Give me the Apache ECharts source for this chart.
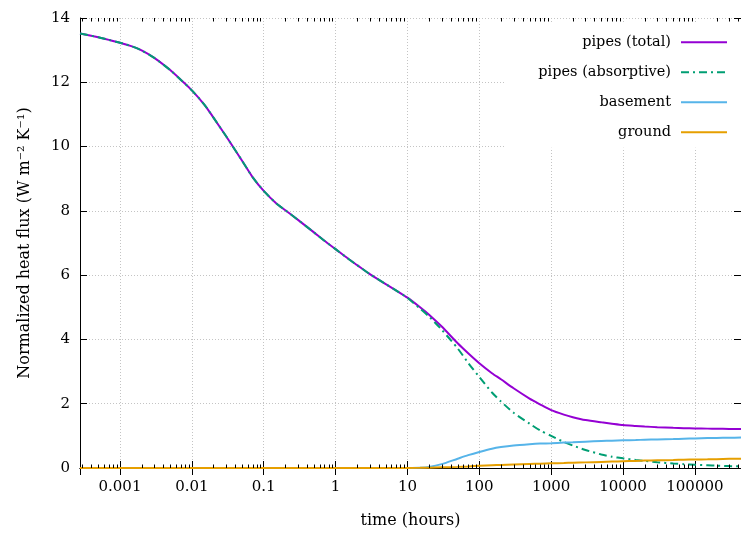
<!DOCTYPE html>
<html>
<head>
<meta charset="utf-8">
<script src="https://cdn.jsdelivr.net/npm/echarts@6/dist/echarts.min.js"></script>
<style>html,body{margin:0;padding:0;background:#fff}#c{width:741px;height:534px}</style>
</head>
<body>
<div id="c"></div>
<script>
// time in hours
var times = [0.000278, 0.0005, 0.0007,
  0.001, 0.0015, 0.002, 0.003, 0.005, 0.007,
  0.01, 0.015, 0.02, 0.03, 0.05, 0.07,
  0.1, 0.15, 0.2, 0.3, 0.5, 0.7,
  1, 1.5, 2, 3, 5, 7,
  10, 15, 20, 30, 50, 70,
  100, 150, 200, 300, 500, 700,
  1000, 1500, 2000, 3000, 5000, 7000,
  10000, 15000, 20000, 30000, 50000, 70000,
  100000, 150000, 200000, 300000, 438000];
var pipesTotal = [13.52, 13.40, 13.32,
  13.23, 13.11, 12.99, 12.76, 12.38, 12.08,
  11.75, 11.30, 10.90, 10.32, 9.56, 9.05,
  8.62, 8.23, 8.02, 7.72, 7.33, 7.07,
  6.81, 6.51, 6.31, 6.03, 5.72, 5.52,
  5.30, 5.00, 4.77, 4.40, 3.88, 3.57,
  3.26, 2.95, 2.76, 2.48, 2.16, 1.98,
  1.80, 1.66, 1.58, 1.49, 1.42, 1.38,
  1.34, 1.31, 1.29, 1.27, 1.25, 1.24,
  1.23, 1.225, 1.22, 1.215, 1.21];
var pipesAbsorptive = [13.52, 13.40, 13.32,
  13.23, 13.11, 12.99, 12.76, 12.38, 12.08,
  11.75, 11.30, 10.90, 10.32, 9.56, 9.05,
  8.62, 8.23, 8.02, 7.72, 7.33, 7.07,
  6.81, 6.51, 6.31, 6.03, 5.72, 5.52,
  5.29, 4.96, 4.71, 4.30, 3.72, 3.27,
  2.83, 2.35, 2.07, 1.72, 1.38, 1.17,
  1.00, 0.81, 0.70, 0.56, 0.42, 0.35,
  0.30, 0.25, 0.22, 0.18, 0.14, 0.12,
  0.10, 0.085, 0.075, 0.06, 0.05];
var basement = [0, 0, 0,
  0, 0, 0, 0, 0, 0,
  0, 0, 0, 0, 0, 0,
  0, 0, 0, 0, 0, 0,
  0, 0, 0, 0, 0, 0,
  0, 0.005, 0.03, 0.12, 0.29, 0.40,
  0.50, 0.60, 0.65, 0.70, 0.74, 0.76,
  0.77, 0.79, 0.80, 0.82, 0.84, 0.85,
  0.86, 0.87, 0.88, 0.89, 0.90, 0.91,
  0.92, 0.93, 0.935, 0.94, 0.95];
var ground = [0, 0, 0,
  0, 0, 0, 0, 0, 0,
  0, 0, 0, 0, 0, 0,
  0, 0, 0, 0, 0, 0,
  0, 0, 0, 0, 0, 0,
  0, 0.005, 0.01, 0.02, 0.035, 0.05,
  0.07, 0.085, 0.095, 0.11, 0.125, 0.135,
  0.145, 0.155, 0.165, 0.175, 0.19, 0.20,
  0.21, 0.22, 0.23, 0.24, 0.25, 0.26,
  0.265, 0.27, 0.275, 0.285, 0.29];
var seriesNames = ['pipes (total)', 'pipes (absorptive)', 'basement', 'ground'];
var xMin = 1 / 3600, xMax = 438000;
var yMin = 0, yMax = 14, yStep = 2;

function pairs(vals) { return times.map(function (t, i) { return [t, vals[i]]; }); }

// minor log ticks (2..9 x 10^n) inside the range
var minorTicks = [];
for (var n = -4; n <= 5; n++) {
  for (var k = 2; k <= 9; k++) {
    var v = k * Math.pow(10, n);
    if (v > xMin && v < xMax) minorTicks.push([v, 0]);
  }
}

var FONT = 'DejaVu Serif';
var grid = {type: [1, 2], color: '#c4c4c4', width: 1};

var chart = echarts.init(document.getElementById('c'), null, {renderer: 'canvas'});
chart.setOption({
  animation: false,
  backgroundColor: '#fff',
  grid: {left: 80, right: -5, top: 18, bottom: 62, containLabel: false},
  legend: {
    data: seriesNames,
    orient: 'vertical',
    right: -2,
    top: 22,
    align: 'right',
    itemWidth: 46,
    itemHeight: 14,
    itemGap: 15,
    padding: [12.7, 15, 8, 34],
    backgroundColor: '#fff',
    itemStyle: {opacity: 0},
    textStyle: {fontFamily: FONT, fontSize: 14.5, color: '#000', padding: [0, 5, 0, 0]}
  },
  xAxis: [{
    type: 'log', logBase: 10, min: xMin, max: xMax,
    name: 'time (hours)', nameLocation: 'middle', nameGap: 45,
    nameTextStyle: {fontFamily: FONT, fontSize: 16, color: '#000'},
    axisLine: {show: true, lineStyle: {color: '#000', width: 1}},
    axisTick: {show: true, inside: true, length: 7, lineStyle: {color: '#000'}},
    axisLabel: {fontFamily: FONT, fontSize: 15, color: '#000', margin: 12, showMinLabel: false, showMaxLabel: false,
      formatter: function (v) { return v >= 1 ? String(Math.round(v)) : String(Number(v.toPrecision(1))); }},
    splitLine: {show: true, lineStyle: grid},
    minorTick: {show: false}
  }, {
    type: 'log', logBase: 10, min: xMin, max: xMax, position: 'top',
    axisLine: {show: true, lineStyle: {color: '#000', width: 1}},
    axisTick: {show: true, inside: true, length: 7, lineStyle: {color: '#000'}},
    axisLabel: {show: false}, splitLine: {show: false}
  }],
  yAxis: [{
    type: 'value', min: yMin, max: yMax, interval: yStep,
    name: 'Normalized heat flux (W m\u207B\u00B2 K\u207B\u00B9)', nameLocation: 'middle', nameGap: 47,
    nameTextStyle: {fontFamily: FONT, fontSize: 16, color: '#000'},
    axisLine: {show: true, lineStyle: {color: '#000', width: 1}},
    axisTick: {show: true, inside: true, length: 7, lineStyle: {color: '#000'}},
    axisLabel: {fontFamily: FONT, fontSize: 15, color: '#000', margin: 10},
    splitLine: {show: true, lineStyle: grid}
  }, {
    type: 'value', min: yMin, max: yMax, interval: yStep, position: 'right',
    axisLine: {show: true, lineStyle: {color: '#000', width: 1}},
    axisTick: {show: true, inside: true, length: 7, lineStyle: {color: '#000'}},
    axisLabel: {show: false}, splitLine: {show: false}
  }],
  series: [
    {name: seriesNames[0], type: 'line', data: pairs(pipesTotal), symbol: 'none', smooth: 0.25,
      lineStyle: {color: '#9400D3', width: 2}, itemStyle: {color: '#9400D3'}, z: 3},
    {name: seriesNames[1], type: 'line', data: pairs(pipesAbsorptive), symbol: 'none', smooth: 0.25,
      lineStyle: {color: '#009E73', width: 2, type: [8, 4, 2, 4]}, itemStyle: {color: '#009E73'}, z: 4},
    {name: seriesNames[2], type: 'line', data: pairs(basement), symbol: 'none', smooth: 0.25,
      lineStyle: {color: '#56B4E9', width: 2}, itemStyle: {color: '#56B4E9'}, z: 5},
    {name: seriesNames[3], type: 'line', data: pairs(ground), symbol: 'none', smooth: 0.25,
      lineStyle: {color: '#E69F00', width: 2}, itemStyle: {color: '#E69F00'}, z: 6},
    {name: 'minor', type: 'custom', data: minorTicks, silent: true, z: 7, clip: false,
      renderItem: function (params, api) {
        var b = api.coord([api.value(0), yMin]);
        var t = api.coord([api.value(0), yMax]);
        var st = {stroke: '#000', lineWidth: 1};
        return {type: 'group', children: [
          {type: 'line', shape: {x1: Math.round(b[0]) + 0.5, y1: b[1], x2: Math.round(b[0]) + 0.5, y2: b[1] - 3.5}, style: st},
          {type: 'line', shape: {x1: Math.round(t[0]) + 0.5, y1: t[1], x2: Math.round(t[0]) + 0.5, y2: t[1] + 3.5}, style: st}
        ]};
      }}
  ]
});
</script>
</body>
</html>
